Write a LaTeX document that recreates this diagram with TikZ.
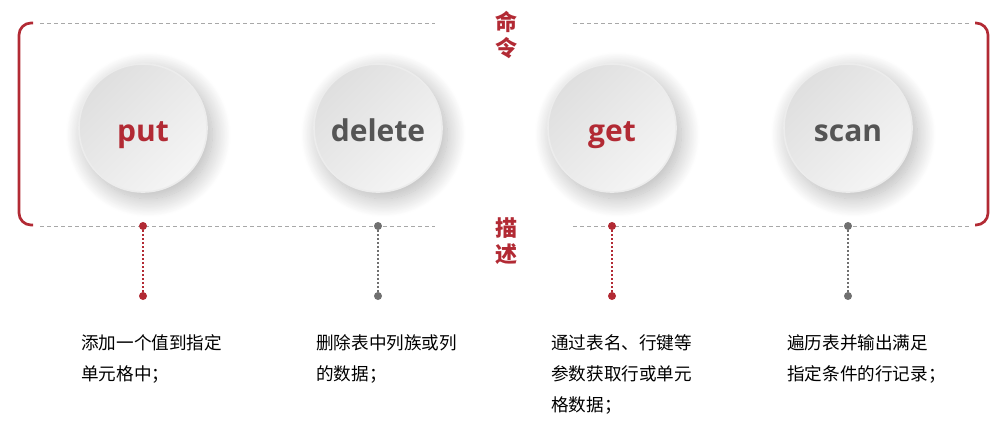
\documentclass[tikz,border=0pt]{standalone}
\usepackage{fontspec}
\setmainfont{Open Sans}
\newfontfamily\cjk{Noto Sans CJK SC}
\usetikzlibrary{shadows.blur}
\definecolor{myred}{RGB}{178,42,52}
\definecolor{mygray}{RGB}{85,85,85}
\definecolor{dotgray}{RGB}{112,112,112}
\definecolor{dashgray}{RGB}{168,168,168}
\definecolor{cdark}{RGB}{223,223,223}
\definecolor{clight}{RGB}{245,245,245}
\definecolor{crim}{RGB}{236,236,236}
\begin{document}
\begin{tikzpicture}[x=0.75pt,y=-0.75pt,
  cmd/.style={circle, minimum size=96pt, inner sep=0pt,
    text height=22pt, text depth=2.4pt,
    top color=cdark, bottom color=clight, shading angle=45,
    draw=crim, line width=1.2pt,
    blur shadow={shadow xshift=4pt, shadow yshift=-5pt, shadow blur radius=14pt,
      shadow blur steps=24, shadow opacity=30},
    font=\bfseries\fontsize{22.5}{27}\selectfont},
  dotr/.style={circle, fill=myred, inner sep=0pt, minimum size=6pt},
  dotg/.style={circle, fill=dotgray, inner sep=0pt, minimum size=6pt},
  vline/.style={line width=1.5pt, dash pattern=on 1.5pt off 1.5pt},
  dline/.style={draw=dashgray, line width=0.75pt, dash pattern=on 3pt off 2.25pt},
  bracket/.style={draw=myred, line width=2pt, rounded corners=9pt},
  desc/.style={anchor=north west, inner sep=0pt, align=left, text=black,
    font=\cjk\fontsize{13.2}{23.25}\selectfont},
  title/.style={inner sep=0pt, align=center, text=myred,
    font=\cjk\bfseries\fontsize{16.5}{19.5}\selectfont}
]
\useasboundingbox (0,0) rectangle (1005,432);

% dashed guide lines
\coordinate (a1) at (40,23);  \coordinate (a2) at (435,23);
\coordinate (a3) at (573,23); \coordinate (a4) at (970,23);
\coordinate (b1) at (40,226);  \coordinate (b2) at (435,226);
\coordinate (b3) at (573,226); \coordinate (b4) at (970,226);
\draw[dline] (a1) -- (a2);
\draw[dline] (a3) -- (a4);
\draw[dline] (b1) -- (b2);
\draw[dline] (b3) -- (b4);

% brackets
\coordinate (lb1) at (33,23);  \coordinate (lb2) at (19,23);
\coordinate (lb3) at (19,225); \coordinate (lb4) at (33,225);
\coordinate (rb1) at (975,23);  \coordinate (rb2) at (988,23);
\coordinate (rb3) at (988,225); \coordinate (rb4) at (975,225);
\draw[bracket] (lb1) -- (lb2) -- (lb3) -- (lb4);
\draw[bracket] (rb1) -- (rb2) -- (rb3) -- (rb4);

% titles
\node[title] (t1) at (506,35) {命\\令};
\node[title] (t2) at (506,241) {描\\述};

% circles
\node[cmd, text=myred]  (put) at (143,128) {put};
\node[cmd, text=mygray] (del) at (378,128) {delete};
\node[cmd, text=myred]  (get) at (612,128) {get};
\node[cmd, text=mygray] (scn) at (848,128) {scan};

% connectors
\node[dotr] (p1) at (143,226) {}; \node[dotr] (p2) at (143,296) {};
\node[dotg] (d1) at (378,226) {}; \node[dotg] (d2) at (378,296) {};
\node[dotr] (g1) at (612,226) {}; \node[dotr] (g2) at (612,296) {};
\node[dotg] (s1) at (848,226) {}; \node[dotg] (s2) at (848,296) {};
\draw[vline, draw=myred] (p1) -- (p2);
\draw[vline, draw=dotgray] (d1) -- (d2);
\draw[vline, draw=myred] (g1) -- (g2);
\draw[vline, draw=dotgray] (s1) -- (s2);

% descriptions
\node[desc] (pt) at (81,334) {添加一个值到指定\\单元格中；};
\node[desc] (dt) at (316,334) {删除表中列族或列\\的数据；};
\node[desc] (gt) at (551,334) {通过表名、行键等\\参数获取行或单元\\格数据；};
\node[desc] (st) at (787,334) {遍历表并输出满足\\指定条件的行记录；};
\end{tikzpicture}
\end{document}
